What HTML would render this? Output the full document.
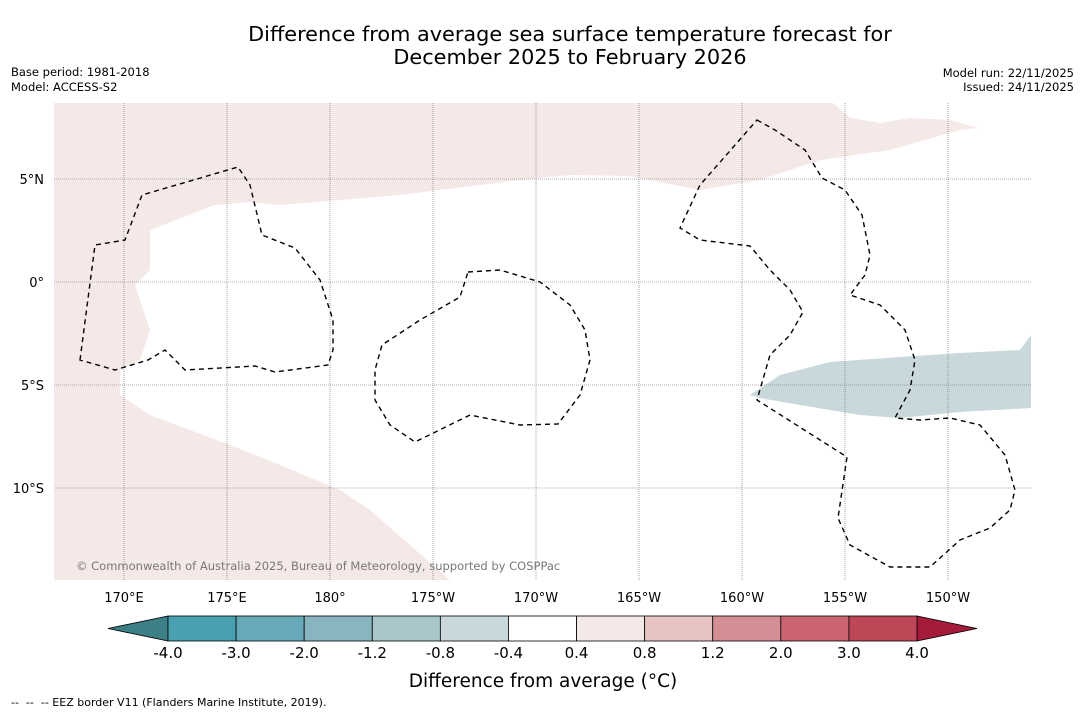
<!DOCTYPE html>
<html><head><meta charset="utf-8"><style>
body{margin:0;background:#fff;font-family:"DejaVu Sans","Liberation Sans",sans-serif;}
text{white-space:pre;}
</style></head><body>
<svg width="1085" height="713" viewBox="0 0 1085 713" xmlns="http://www.w3.org/2000/svg" font-family="DejaVu Sans, Liberation Sans, sans-serif">
<text x="570" y="41" text-anchor="middle" font-size="20.8">Difference from average sea surface temperature forecast for</text>
<text x="570" y="64" text-anchor="middle" font-size="20.8">December 2025 to February 2026</text>
<text x="11" y="76" font-size="11.5">Base period: 1981-2018</text>
<text x="11" y="91" font-size="11.5">Model: ACCESS-S2</text>
<text x="1074" y="77" font-size="11.5" text-anchor="end">Model run: 22/11/2025</text>
<text x="1074" y="91" font-size="11.5" text-anchor="end">Issued: 24/11/2025</text>
<g>
<rect x="54" y="103" width="977" height="477" fill="#fff"/>
<polygon fill="#f5e9e8" points="54,103 833,103 850,118 880,123 910,118 950,120 978,128 960,130 890,150 820,160 760,180 700,190 660,182 630,176 570,175 520,180 400,195 280,205 250,202 215,205 150,230 150,270 135,285 150,330 140,360 120,370 120,395 150,415 230,445 280,465 340,490 370,510 410,545 450,580 54,580"/>
<polygon fill="#c9d8db" points="750,395 780,375 830,362 900,357 960,353 1020,350 1031,335 1031,408 960,412 900,418 860,415 800,405 760,398"/>
<g id="grid" stroke="#666" stroke-width="0.6" stroke-dasharray="1,1"></g>
<g fill="none" stroke="#000" stroke-width="1.4" stroke-dasharray="5,4">
<polygon points="80,360 95,245 125,240 142,195 238,167 250,185 262,235 295,248 320,280 333,320 333,350 328,365 275,372 255,366 185,370 165,350 148,360 115,370"/>
<polygon points="468,272 500,270 540,282 570,305 585,330 590,360 580,395 558,424 520,425 470,415 415,442 390,425 375,400 375,370 382,345 420,320 460,297"/>
<polygon points="757,120 775,130 805,150 822,178 845,190 862,215 870,255 865,275 850,295 880,305 905,330 915,360 910,390 895,418 920,420 950,418 980,425 1005,455 1015,490 1010,510 990,528 960,540 930,567 890,567 850,545 838,518 847,457 757,400 770,355 790,335 803,312 790,290 770,270 750,246 700,240 680,228 700,185"/>
</g>
<text x="76" y="570" font-size="11.5" fill="#777">© Commonwealth of Australia 2025, Bureau of Meteorology, supported by COSPPac</text>
</g>
<g id="axes" font-size="13"></g>
<g id="cbar"></g>
<text x="543" y="687" text-anchor="middle" font-size="18.5">Difference from average (°C)</text>
<text x="11" y="706" font-size="11" xml:space="preserve">--  --  -- EEZ border V11 (Flanders Marine Institute, 2019).</text>
</svg>
<script>
const lonTicks=[170,175,180,-175,-170,-165,-160,-155,-150];
const lonLabels=["170°E","175°E","180°","175°W","170°W","165°W","160°W","155°W","150°W"];
const latTicks=[5,0,-5,-10];
const latLabels=["5°N","0°","5°S","10°S"];
const cbLevels=["-4.0","-3.0","-2.0","-1.2","-0.8","-0.4","0.4","0.8","1.2","2.0","3.0","4.0"];
const cbColors=["#48a0b0","#67a9b8","#88b5c0","#a9c6cb","#c9d8db","#ffffff","#f5e9e8","#e6c4c1","#d48f95","#c96470","#bd4757"];
const cbLow="#3d7f86", cbHigh="#a51c3a";
const NS="http://www.w3.org/2000/svg";
function lx(lon){let l=lon<0?lon+360:lon;return 124+(l-170)*20.6;}
function ly(lat){return 282-lat*20.6;}
const grid=document.getElementById('grid'),axes=document.getElementById('axes');
lonTicks.forEach((t,i)=>{
 const l=document.createElementNS(NS,'line');l.setAttribute('x1',lx(t));l.setAttribute('x2',lx(t));l.setAttribute('y1',103);l.setAttribute('y2',580);
 
 grid.appendChild(l);
 const tx=document.createElementNS(NS,'text');tx.setAttribute('x',lx(t));tx.setAttribute('y',602);tx.setAttribute('text-anchor','middle');tx.textContent=lonLabels[i];
 
 axes.appendChild(tx);
});
latTicks.forEach((t,i)=>{
 const l=document.createElementNS(NS,'line');l.setAttribute('x1',54);l.setAttribute('x2',1031);l.setAttribute('y1',ly(t));l.setAttribute('y2',ly(t));
 
 grid.appendChild(l);
 const tx=document.createElementNS(NS,'text');tx.setAttribute('x',44);tx.setAttribute('y',ly(t)+5);tx.setAttribute('text-anchor','end');tx.textContent=latLabels[i];
 
 axes.appendChild(tx);
});
const cb=document.getElementById('cbar');
const x0=168,x1=917,y0=616,h=25,w=(x1-x0)/cbColors.length;
function add(tag,attrs){const e=document.createElementNS(NS,tag);for(const k in attrs)e.setAttribute(k,attrs[k]);cb.appendChild(e);return e;}
let lt=add('polygon',{points:`108,${y0+h/2} ${x0},${y0} ${x0},${y0+h}`,fill:cbLow,stroke:'#000','stroke-width':0.8});


let rt=add('polygon',{points:`977,${y0+h/2} ${x1},${y0} ${x1},${y0+h}`,fill:cbHigh,stroke:'#000','stroke-width':0.8});


cbColors.forEach((c,i)=>{
 const r=add('rect',{x:x0+i*w,y:y0,width:w,height:h,fill:c,stroke:'#000','stroke-width':0.8});
 
 
});
cbLevels.forEach((v,i)=>{
 const t=add('text',{x:x0+i*w,y:658,'text-anchor':'middle','font-size':15});t.textContent=v;
 
 
});
</script>
</body></html>
